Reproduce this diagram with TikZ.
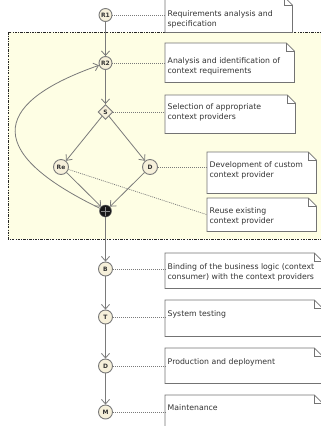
\documentclass[tikz,border=0pt]{standalone}
\usepackage{fontspec}
\setmainfont{DejaVu Sans}
\usetikzlibrary{arrows.meta,shapes.geometric}
\definecolor{cream}{HTML}{F6F0DA}
\definecolor{zone}{HTML}{FEFEE4}
\definecolor{edgec}{HTML}{7A7A7A}
\tikzset{
  stage/.style={circle,draw=edgec,fill=cream,line width=0.9bp,minimum size=13bp,inner sep=0pt,
    font=\fontsize{6}{6}\selectfont\bfseries,text=black!80},
  choice/.style={diamond,draw=edgec,fill=cream,line width=0.9bp,minimum size=15bp,inner sep=0pt,
    font=\fontsize{6}{6}\selectfont\bfseries,text=black!80},
  mergept/.style={circle,fill=black!90,draw=black!60,line width=0.5bp,minimum size=12bp,inner sep=0pt},
  flow/.style={draw=edgec,line width=0.8bp,-{Straight Barb[length=4.5bp,width=8bp]}},
  link/.style={draw=edgec,line width=0.7bp,dash pattern=on 1bp off 1bp},
  notebox/.style={anchor=north west,inner sep=0pt,draw=none},
  notetext/.style={anchor=north west,inner sep=0pt,align=left,
    font=\fontsize{7.8}{10}\selectfont,text=black!80},
  noteline/.style={draw=black!55,line width=0.8bp,fill=white},
}
\newcommand\foldnote[1]{%
  \draw[noteline] (#1.north west) -- ([xshift=-8bp]#1.north east) -- ([yshift=-8bp]#1.north east)
     -- (#1.south east) -- (#1.south west) -- cycle;
  \draw[noteline,fill=none] ([xshift=-8bp]#1.north east) -- ([xshift=-8bp,yshift=-8bp]#1.north east)
     -- ([yshift=-8bp]#1.north east);}
\begin{document}
\begin{tikzpicture}[x=1bp,y=-1bp]
\useasboundingbox (0,0) rectangle (321,426);
% zone
\draw[fill=zone,draw=black!85,line width=0.7bp,dash pattern=on 2.5bp off 1.2bp on 0.8bp off 1.2bp]
  (8,32) rectangle (330,239);
% notes boxes
\node[notebox,minimum width=127bp,minimum height=35bp] (n1) at (165,-3) {};
\node[notebox,minimum width=129bp,minimum height=39bp] (n2) at (165,43) {};
\node[notebox,minimum width=130bp,minimum height=38bp] (n3) at (165,95) {};
\node[notebox,minimum width=109bp,minimum height=41bp] (n4) at (207,152) {};
\node[notebox,minimum width=109bp,minimum height=33bp] (n5) at (207,198) {};
\node[notebox,minimum width=157bp,minimum height=35bp] (n6) at (165,253) {};
\node[notebox,minimum width=157bp,minimum height=36bp] (n7) at (165,300) {};
\node[notebox,minimum width=157bp,minimum height=35bp] (n8) at (165,348) {};
\node[notebox,minimum width=157bp,minimum height=40bp] (n9) at (165,395) {};
\foreach \n in {n1,n2,n3,n4,n5,n6,n7,n8,n9}{\foldnote{\n}}
% note texts
\node[notetext] (t1) at (167.5,10.5) {Requirements analysis and\\specification};
\node[notetext] (t2) at (167.5,57.5) {Analysis and identification of\\context requirements};
\node[notetext] (t3) at (167.5,103.5) {Selection of appropriate\\context providers};
\node[notetext] (t4) at (209.5,161.5) {Development of custom\\context provider};
\node[notetext] (t5) at (209.5,207.5) {Reuse existing\\context provider};
\node[notetext] (t6) at (167.5,263.5) {Binding of the business logic (context\\consumer) with the context providers};
\node[notetext] (t7) at (167.5,310.5) {System testing};
\node[notetext] (t8) at (167.5,358.5) {Production and deployment};
\node[notetext] (t9) at (167.5,404.5) {Maintenance};
% process nodes
\node[stage] (r1) at (105.5,15) {R1};
\node[stage] (r2) at (105.5,63) {R2};
\node[choice] (s) at (105.5,112) {S};
\node[stage,minimum size=15bp] (re) at (61,167) {Re};
\node[stage,minimum size=15bp] (d) at (150,167) {D};
\node[mergept] (m) at (105.5,211) {};
\draw[black!45,line width=0.4bp] ([xshift=-4.5bp]m.center) -- ([xshift=4.5bp]m.center)
  ([yshift=-4.5bp]m.center) -- ([yshift=4.5bp]m.center);
\node[stage,minimum size=14bp] (b) at (105.5,269) {B};
\node[stage,minimum size=14bp] (t) at (105.5,317) {T};
\node[stage,minimum size=14bp] (dd) at (105.5,366) {D};
\node[stage,minimum size=14bp] (mm) at (105.5,412) {M};
% flows
\draw[flow] (r1) -- (r2);
\draw[flow] (r2) -- (s);
\draw[flow] (s) -- (re);
\draw[flow] (s) -- (d);
\draw[flow] (re) -- (m);
\draw[flow] (d) -- (m);
\draw[flow] (m) .. controls (-25,148) and (0,100) .. (r2);
\draw[flow] (m) -- (b);
\draw[flow] (b) -- (t);
\draw[flow] (t) -- (dd);
\draw[flow] (dd) -- (mm);
% links to notes
\draw[link] (r1) -- (r1 -| n1.west);
\draw[link] (r2) -- (r2 -| n2.west);
\draw[link] (s) -- (s -| n3.west);
\draw[link] (d) -- (d -| n4.west);
\draw[link] (re) -- (n5.west);
\draw[link] (b) -- (b -| n6.west);
\draw[link] (t) -- (t -| n7.west);
\draw[link] (dd) -- (dd -| n8.west);
\draw[link] (mm) -- (mm -| n9.west);
\end{tikzpicture}
\end{document}
